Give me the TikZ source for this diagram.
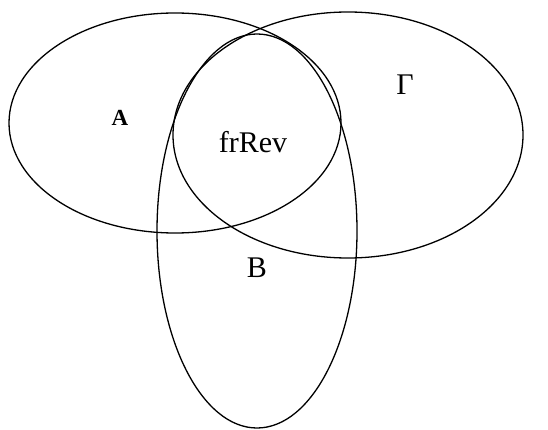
\documentclass[tikz,border=0pt]{standalone}
\usepackage{fontspec}
\setmainfont{Liberation Serif}
\begin{document}
\begin{tikzpicture}[x=1pt,y=-1pt,
  setline/.style={draw=black,line width=1.3pt},
  lab/.style={font=\fontsize{30}{32}\selectfont,inner sep=0pt}]
\useasboundingbox (0,0) rectangle (548,430);
\draw[setline] (175,123) ellipse [x radius=166, y radius=110];
\draw[setline] (348,135) ellipse [x radius=175, y radius=123];
\draw[setline] (257,231) ellipse [x radius=100, y radius=197];
\node[lab,font=\fontsize{23}{25}\selectfont\bfseries] (a) at (120,118) {A};
\node[lab] (g) at (405,85) {Γ};
\node[lab] (f) at (253,142) {frRev};
\node[lab] (b) at (257,268) {B};
\end{tikzpicture}
\end{document}
